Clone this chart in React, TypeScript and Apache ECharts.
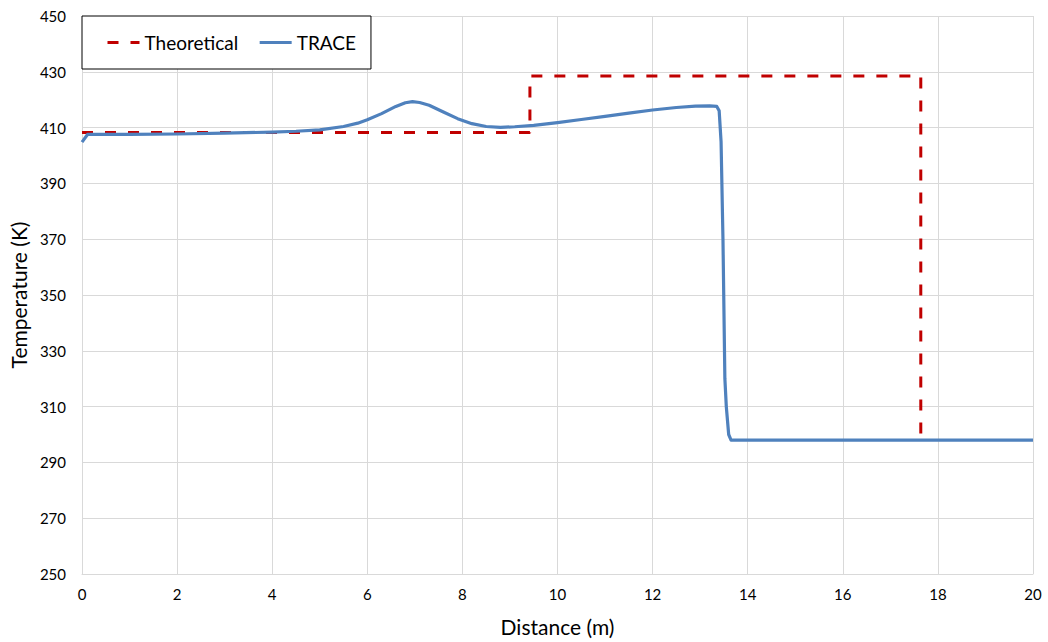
import React, { useEffect, useRef } from "react";
import * as echarts from "echarts";

// Theoretical temperature profile (step function)
const theoryX = [0, 9.42, 9.42, 17.64, 17.64];
const theoryY = [408.2, 408.2, 428.5, 428.5, 298];

// TRACE simulation results
const traceX = [
  0, 0.12, 1, 2, 3, 4, 4.5, 5, 5.5, 5.8, 6, 6.3, 6.6, 6.8, 6.95, 7.1, 7.3, 7.6,
  7.9, 8.2, 8.5, 8.8, 9.1, 9.5, 10, 10.5, 11, 11.5, 12, 12.5, 12.9, 13.2, 13.35,
  13.4, 13.44, 13.48, 13.52, 13.55, 13.6, 13.65, 20,
];
const traceY = [
  404.8, 407.6, 407.6, 407.7, 408.0, 408.4, 408.7, 409.2, 410.4, 411.6, 412.8,
  415.0, 417.6, 418.9, 419.3, 419.0, 418.0, 415.6, 413.2, 411.4, 410.4, 410.1,
  410.3, 410.8, 411.8, 412.9, 414.0, 415.2, 416.3, 417.2, 417.7, 417.8, 417.6,
  416.0, 405.0, 370.0, 320.0, 310.0, 300.0, 298.0, 298.0,
];

const xTicks = { min: 0, max: 20, interval: 2 };
const yTicks = { min: 250, max: 450, interval: 20 };

const FONT = "Lato";

export default function App() {
  const ref = useRef<HTMLDivElement>(null);

  useEffect(() => {
    if (!ref.current) return;
    const chart = echarts.init(ref.current, undefined, { renderer: "svg" });
    chart.setOption({
      animation: false,
      backgroundColor: "#ffffff",
      textStyle: { fontFamily: FONT },
      grid: { left: 82, right: 15, top: 16, bottom: 68, containLabel: false },
      legend: {
        left: 82,
        top: 16,
        padding: [17, 15, 17, 24],
        itemWidth: 32,
        itemHeight: 14,
        itemGap: 20,
        borderColor: "#000000",
        borderWidth: 1,
        backgroundColor: "#ffffff",
        itemStyle: { opacity: 0 },
        lineStyle: { width: 3 },
        textStyle: { fontFamily: FONT, fontSize: 19, color: "#000000" },
        data: ["Theoretical", "TRACE"],
      },
      xAxis: {
        type: "value",
        min: xTicks.min,
        max: xTicks.max,
        interval: xTicks.interval,
        name: "Distance (m)",
        nameLocation: "middle",
        nameGap: 42,
        nameTextStyle: { fontFamily: FONT, fontSize: 21, color: "#000000" },
        axisLine: { show: true, lineStyle: { color: "#d9d9d9", width: 1 } },
        axisTick: { show: false },
        axisLabel: { margin: 12, fontSize: 15, color: "#000000", fontFamily: FONT },
        splitLine: { show: true, lineStyle: { color: "#d9d9d9", width: 1 } },
      },
      yAxis: {
        type: "value",
        min: yTicks.min,
        max: yTicks.max,
        interval: yTicks.interval,
        name: "Temperature (K)",
        nameLocation: "middle",
        nameRotate: 90,
        nameGap: 51,
        nameTextStyle: { fontFamily: FONT, fontSize: 21, color: "#000000" },
        axisLine: { show: false },
        axisTick: { show: false },
        axisLabel: { margin: 16, fontSize: 15, color: "#000000", fontFamily: FONT },
        splitLine: { show: true, lineStyle: { color: "#d9d9d9", width: 1 } },
      },
      series: [
        {
          name: "Theoretical",
          type: "line",
          data: theoryX.map((x, i) => [x, theoryY[i]]),
          showSymbol: false,
          symbol: "none",
          color: "#c00000",
          lineStyle: { color: "#c00000", width: 3, type: [11, 12] },
          z: 3,
        },
        {
          name: "TRACE",
          type: "line",
          data: traceX.map((x, i) => [x, traceY[i]]),
          showSymbol: false,
          symbol: "none",
          smooth: false,
          color: "#4f81bd",
          lineStyle: { color: "#4f81bd", width: 3.2, join: "round" },
          z: 4,
        },
      ],
    });
    return () => chart.dispose();
  }, []);

  return (
    <div
      ref={ref}
      style={{ position: "fixed", left: 0, top: 0, width: 1048, height: 642 }}
    />
  );
}
